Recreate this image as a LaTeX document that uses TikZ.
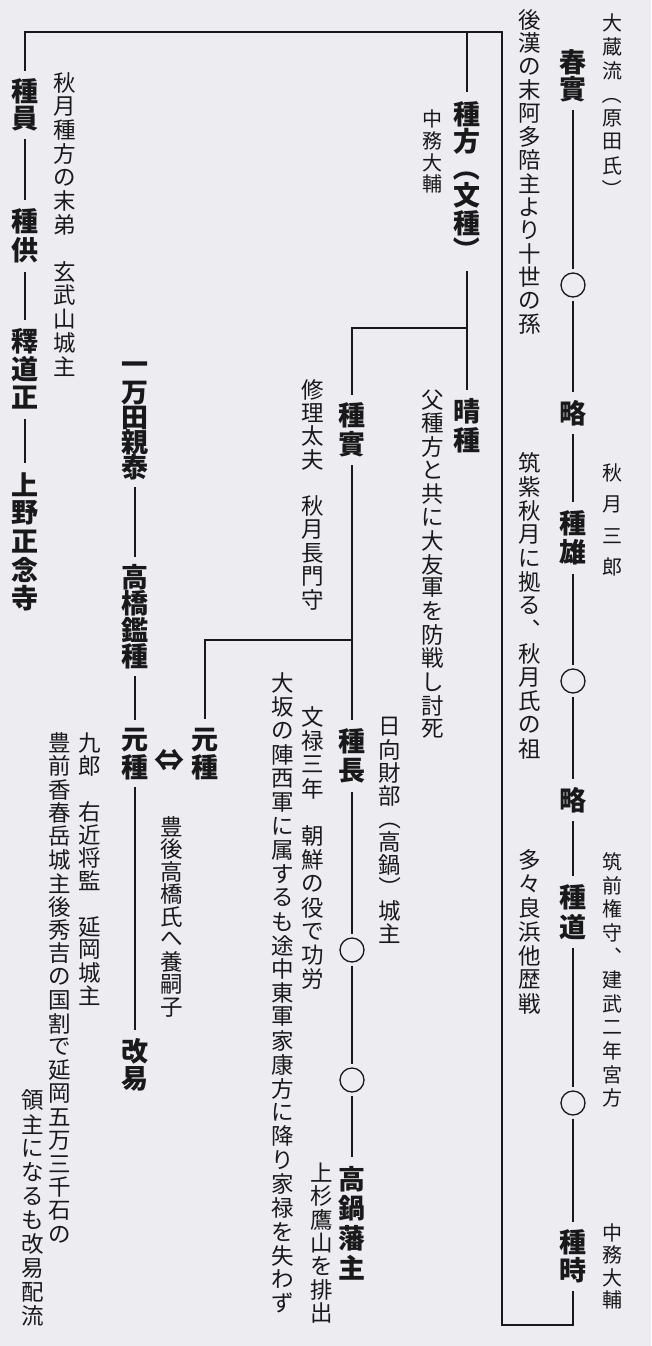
\documentclass[tikz,border=0pt]{standalone}
\usepackage{graphicx}
\usepackage{fontspec}
\newfontfamily\jp{Noto Sans CJK JP}
\makeatletter
\let\vst@end\relax
\newcommand\vst[2]{\vbox{\offinterlineskip\def\vst@p{#1}\vst@loop#2\vst@end}}
\def\vst@loop#1{\ifx#1\vst@end\else\vst@one{#1}\expandafter\vst@loop\fi}
\def\vst@one#1{\hbox to 1em{\hss\vbox to \vst@p pt{\vss\hbox{\ifx*#1\phantom{あ}\else#1\fi}\vss}\hss}}
\makeatother
\newcommand\lpar{\rotatebox[origin=c]{-90}{（}}
\newcommand\rpar{\rotatebox[origin=c]{-90}{）}}
\definecolor{bg}{RGB}{237,237,241}
\definecolor{ink}{RGB}{25,25,28}
\begin{document}
\begin{tikzpicture}[x=1pt,y=-1pt,
  nm/.style={anchor=north, inner sep=0pt, text=ink, font=\jp\bfseries\fontsize{27}{27}\selectfont},
  an/.style={anchor=north, inner sep=0pt, text=ink, font=\jp\fontsize{22.5}{22.5}\selectfont},
  sm/.style={anchor=north, inner sep=0pt, text=ink, font=\jp\fontsize{20}{20}\selectfont},
  circ/.style={circle, draw=ink, line width=1.3pt, minimum size=24pt, inner sep=0pt},
  ln/.style={draw=ink, line width=1.6pt},
  cn/.style={ln, shorten <=7pt, shorten >=7pt},
  cc/.style={ln, shorten <=7pt, shorten >=3pt},
  ct/.style={ln, shorten <=3pt, shorten >=7pt},
  cz/.style={ln, shorten <=3pt, shorten >=3pt}]
\fill[bg] (0,0) rectangle (651,1346);
\useasboundingbox (0,0) rectangle (651,1346);

% main line
\node[nm] (haru) at (573,49) {\vst{27}{春實}};
\node[circ] (m1) at (573,285) {};
\node[nm] (ry1) at (573,399) {\vst{28}{略}};
\node[nm] (katsu) at (573,509) {\vst{29}{種雄}};
\node[circ] (m2) at (573,681) {};
\node[nm] (ry2) at (573,786) {\vst{28}{略}};
\node[nm] (michi) at (573,883) {\vst{29}{種道}};
\node[circ] (m3) at (573,1103) {};
\node[nm] (toki) at (573,1229) {\vst{27}{種時}};

% right annotations
\node[sm] (a1) at (612,11) {\vst{23.75}{大蔵流\lpar 原田氏\rpar}};
\node[sm] (a2) at (612,457) {\vst{31.5}{秋月三郎}};
\node[sm] (a3) at (612,850) {\vst{23.6}{筑前権守︑建武二年宮方}};
\node[sm] (a4) at (612,1221) {\vst{22.5}{中務大輔}};

\node[an] (b1) at (530,8) {\vst{23.4}{後漢の末阿多陪主より十世の孫}};
\node[an] (b2) at (530,451) {\vst{23.8}{筑紫秋月に拠る︑秋月氏の祖}};
\node[an] (b3) at (530,848) {\vst{23.9}{多々良浜他歴戦}};

% tanekata branch
\node[nm] (kata) at (467,100) {\vst{27.3}{種方\lpar 文種\rpar}};
\node[nm] (haruta) at (467,397) {\vst{28.5}{晴種}};
\node[sm] (c1) at (432,108) {\vst{21.75}{中務大輔}};
\node[an] (c2) at (433,388) {\vst{23.5}{父種方と共に大友軍を防戦し討死}};

\node[nm] (zane) at (352,401) {\vst{28.5}{種實}};
\node[nm] (naga) at (352,727) {\vst{29}{種長}};
\node[circ] (m4) at (352,950) {};
\node[circ] (m5) at (352,1080) {};
\node[nm] (taka) at (352,1164) {\vst{29.5}{高鍋藩主}};

\node[an] (d1) at (390,715) {\vst{23}{日向財部\lpar 高鍋\rpar 城主}};
\node[an] (d2) at (313,378) {\vst{23.3}{修理太夫*秋月長門守}};
\node[an] (d3) at (313,705) {\vst{23.8}{文禄三年*朝鮮の役で功労}};
\node[an] (d4) at (322,1161) {\vst{23.4}{上杉鷹山を排出}};
\node[an] (d5) at (283,671) {\vst{23.85}{大坂の陣西軍に属するも途中東軍家康方に降り家禄を失わず}};

% left branch
\node[nm] (kazu) at (25,77) {\vst{27.5}{種員}};
\node[nm] (tomo) at (25,207) {\vst{29}{種供}};
\node[nm] (dou) at (25,327) {\vst{28.2}{釋道正}};
\node[nm] (ueno) at (25,470) {\vst{28.4}{上野正念寺}};
\node[an] (e1) at (65,71) {\vst{23.6}{秋月種方の末弟*玄武山城主}};

\node[nm] (ichi) at (135,355) {\vst{25}{一万田親泰}};
\node[nm] (aki) at (135,564) {\vst{26.2}{高橋鑑種}};
\node[nm] (motoL) at (135,727) {\vst{26.5}{元種}};
\node[nm] (kai) at (135,1037) {\vst{27.5}{改易}};
\node[nm] (motoR) at (205,727) {\vst{26.5}{元種}};
\node[inner sep=0pt, text=ink, font=\jp\bfseries\fontsize{30}{30}\selectfont] (arr) at (169,760) {⇔};
\node[an] (f1) at (172,815) {\vst{22.6}{豊後高橋氏へ養嗣子}};
\node[an] (f2) at (90,731) {\vst{23}{九郎*右近将監*延岡城主}};
\node[an] (f3) at (60,731) {\vst{23.4}{豊前香春岳城主後秀吉の国割で延岡五万三千石の}};
\node[an] (f4) at (33,1088) {\vst{24}{領主になるも改易配流}};

% connectors
\draw[cc] (haru) -- (m1);
\draw[ct] (m1) -- (ry1);
\draw[cn] (ry1) -- (katsu);
\draw[cc] (katsu) -- (m2);
\draw[ct] (m2) -- (ry2);
\draw[cn] (ry2) -- (michi);
\draw[cc] (michi) -- (m3);
\draw[ct] (m3) -- (toki);

\coordinate (cB) at (502,1325);
\coordinate (cTR) at (502,32);
\coordinate (cTL) at (25,32);
\draw[ln, shorten <=8pt, shorten >=6pt] (toki.south) |- (cB) -- (cTR) -- (cTL) -- (kazu.north);
\draw[ln, shorten >=8pt] (kata.north |- cTR) -- (kata.north);

\coordinate (j1) at (467,328);
\draw[cn] (kata) -- (haruta);
\draw[ln, shorten >=6pt] (j1) -| (zane.north);
\draw[cn] (zane) -- (naga);
\coordinate (j2) at (352,640);
\draw[ln, shorten >=8pt] (j2) -| (motoR.north);
\draw[cc] (naga) -- (m4);
\draw[cz] (m4) -- (m5);
\draw[ct] (m5) -- (taka);

\draw[cn] (kazu) -- (tomo);
\draw[cn] (tomo) -- (dou);
\draw[cn] (dou) -- (ueno);
\draw[cn] (ichi) -- (aki);
\draw[cn] (aki) -- (motoL);
\draw[cn] (motoL) -- (kai);
\end{tikzpicture}
\end{document}
